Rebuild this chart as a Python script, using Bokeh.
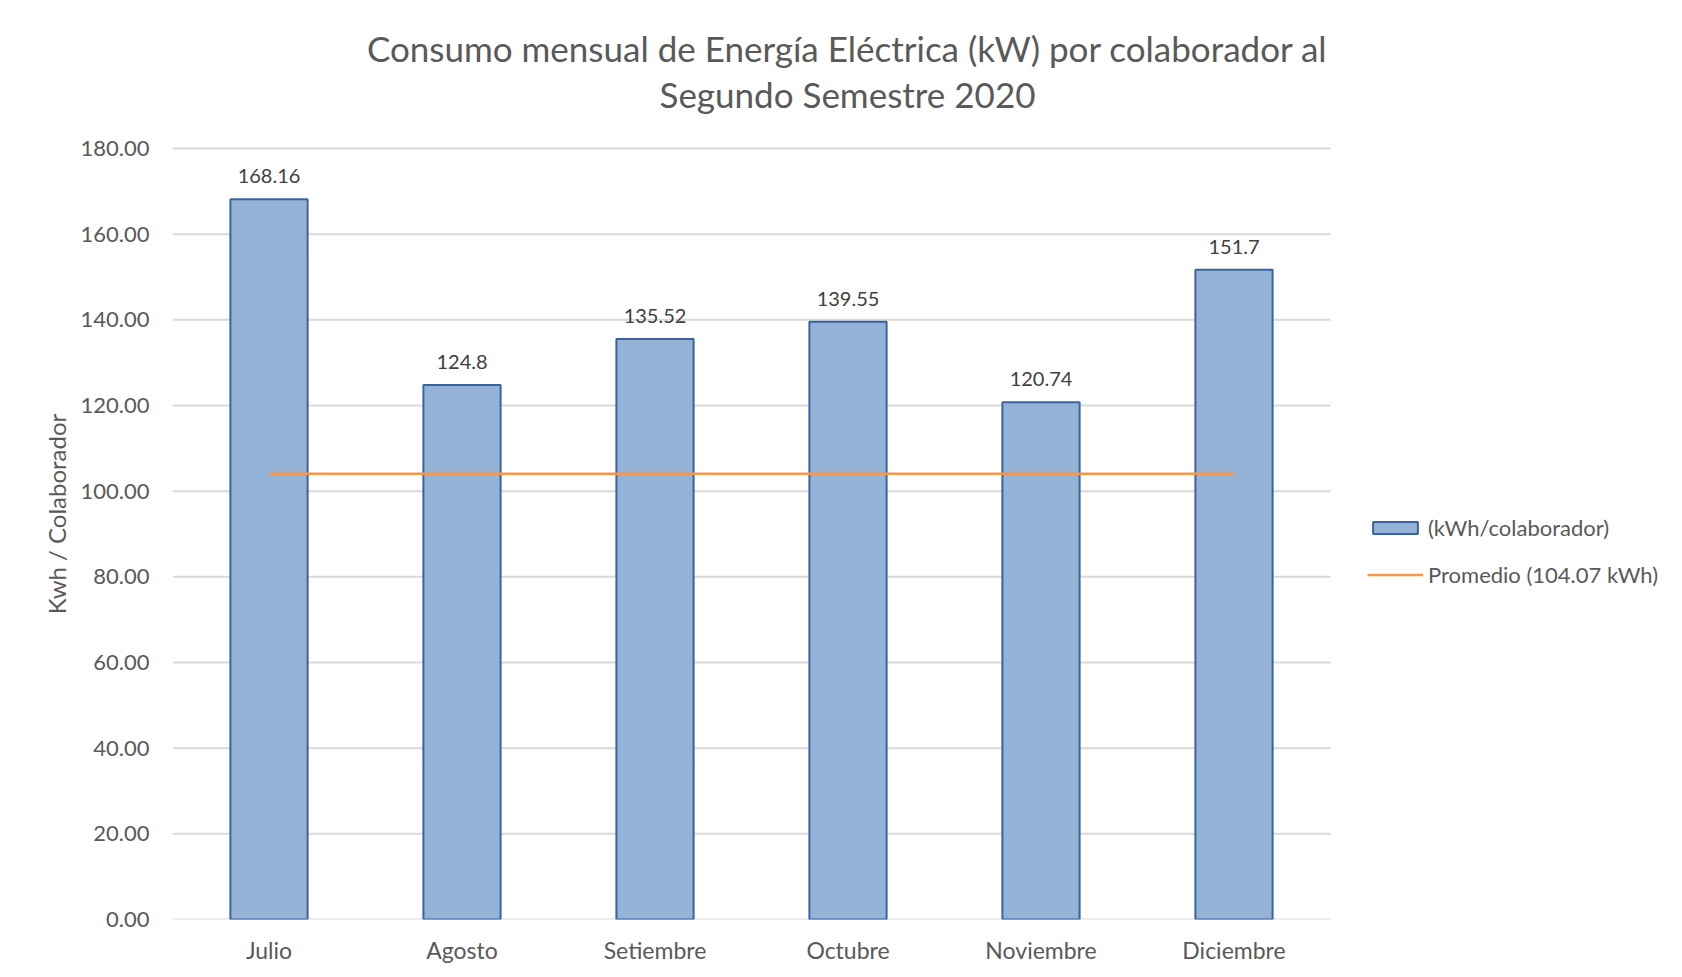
from bokeh.plotting import figure
from bokeh.models import (ColumnDataSource, LabelSet, Label, Legend, LegendItem,
                          NumeralTickFormatter, Range1d, FixedTicker)
from bokeh.core.properties import value
from bokeh.embed import file_html
from bokeh.resources import INLINE

months = ["Julio", "Agosto", "Setiembre", "Octubre", "Noviembre", "Diciembre"]
consumo = [168.16, 124.8, 135.52, 139.55, 120.74, 151.7]
consumo_labels = ["168.16", "124.8", "135.52", "139.55", "120.74", "151.7"]
promedio = 104.07
y_ticks = [0, 20, 40, 60, 80, 100, 120, 140, 160, 180]
title_lines = ["Consumo mensual de Energía Eléctrica (kW) por colaborador al",
               "Segundo Semestre 2020"]
y_title = "Kwh / Colaborador"

FONT = "Lato"
TXT = "#595959"
GRID = "#D9D9D9"

n = len(months)
xpos = [i + 0.5 for i in range(n)]
src = ColumnDataSource(dict(x=xpos, v=consumo, lab=consumo_labels))

# layout (pixels)
W, H = 1666, 967
LEFT, RIGHT, BOTTOM = 172, 8, 48
PLOT_TOP, PLOT_BOTTOM = 148, H - BOTTOM      # where 180 and 0 sit
cat_px = 193.0
frame_w = W - LEFT - RIGHT
x_end = frame_w / cat_px
ppu = (PLOT_BOTTOM - PLOT_TOP) / y_ticks[-1]   # pixels per data unit
y_end = y_ticks[-1] + PLOT_TOP / ppu            # frame extends to the top for the title

p = figure(x_range=Range1d(0, x_end), y_range=Range1d(0, y_end), title=None,
           width=W, height=H, output_backend="svg", toolbar_location=None,
           min_border_left=LEFT, min_border_right=RIGHT, min_border_top=0,
           min_border_bottom=BOTTOM)
p.outline_line_color = None

# horizontal gridlines limited to category area
p.segment(x0=[0] * len(y_ticks), x1=[n] * len(y_ticks), y0=y_ticks, y1=y_ticks,
          line_color=GRID, line_width=2)

bars = p.vbar(x="x", top="v", width=0.4, source=src, fill_color="#95B3D7",
              line_color="#3A64A0", line_width=2)
avg = p.line(xpos, [promedio] * n, line_color="#F79646", line_width=2.5)

p.add_layout(LabelSet(x="x", y="v", text="lab", source=src, y_offset=16,
                      text_align="center", text_baseline="bottom",
                      text_font=value(FONT), text_font_size="20px", text_color="#404040"))

p.yaxis.ticker = FixedTicker(ticks=y_ticks)
p.yaxis.bounds = (y_ticks[0], y_ticks[-1])
p.yaxis.formatter = NumeralTickFormatter(format="0.00")
p.yaxis.axis_line_color = None
p.yaxis.major_tick_line_color = None
p.yaxis.minor_tick_line_color = None
p.yaxis.major_label_text_font = FONT
p.yaxis.major_label_text_font_size = "22px"
p.yaxis.major_label_text_color = TXT
p.yaxis.major_label_standoff = 17
# trailing em spaces shift the visible label down to the centre of the 0-180 area
p.yaxis.axis_label = y_title + "\u2003" * 6
p.yaxis.axis_label_text_font = FONT
p.yaxis.axis_label_text_font_style = "normal"
p.yaxis.axis_label_text_font_size = "24px"
p.yaxis.axis_label_text_color = TXT
p.yaxis.axis_label_standoff = 7

p.xaxis.ticker = FixedTicker(ticks=xpos)
p.xaxis.major_label_overrides = {x: m for x, m in zip(xpos, months)}
p.xaxis.axis_line_color = None
p.xaxis.major_tick_line_color = None
p.xaxis.minor_tick_line_color = None
p.xaxis.major_label_text_font = FONT
p.xaxis.major_label_text_font_size = "23px"
p.xaxis.major_label_text_color = TXT
p.xaxis.major_label_standoff = 10

p.xgrid.grid_line_color = None
p.ygrid.grid_line_color = None

# title lines (placed by pixel position on the canvas)
title_cx = (847 - LEFT) / cat_px
for t, cy in zip(title_lines, [47, 93]):
    p.add_layout(Label(x=title_cx, y=(PLOT_BOTTOM - cy) / ppu, text=t,
                       text_align="center", text_baseline="middle",
                       text_font=FONT, text_font_size="35px", text_color=TXT))

legend = Legend(items=[LegendItem(label="(kWh/colaborador)", renderers=[bars]),
                       LegendItem(label="Promedio (104.07 kWh)", renderers=[avg])],
                location=(1195, 331), glyph_width=56, glyph_height=15,
                label_text_font=FONT, label_text_font_size="22px",
                label_text_color=TXT, border_line_color=None,
                background_fill_alpha=0, spacing=20, label_standoff=5,
                margin=0, padding=10)
p.add_layout(legend)

open("out.html", "w").write(file_html(p, INLINE))
